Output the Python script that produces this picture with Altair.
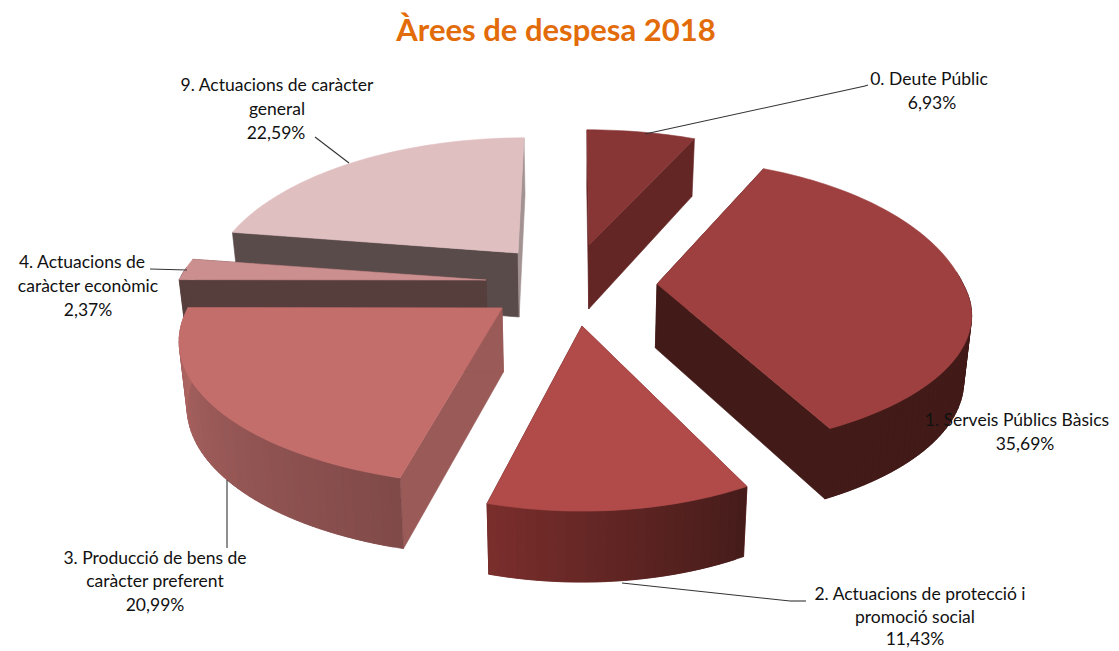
import math
import altair as alt

# Chart values
names = ["0. Deute Públic", "1. Serveis Públics Bàsics", "2. Actuacions de protecció i promoció social",
         "3. Producció de bens de caràcter preferent", "4. Actuacions de caràcter econòmic",
         "9. Actuacions de caràcter general"]
shares = [6.93, 35.69, 11.43, 20.99, 2.37, 22.59]

# Appearance of each slice
apex_x = [589, 657, 582, 502, 486, 518]
apex_y = [245, 284, 326, 308, 280, 253]
radius_x = [308, 306, 292, 314, 307, 300]
radius_y_front = [142, 128, 142, 136, 142, 142]
radius_y_back = [142, 154, 142, 142, 142, 142]
shear_back = [-2, 0, 0, 0, 0, 6]
top_color = ["#883535", "#9E4040", "#B04B4A", "#C46E6C", "#CC8F8F", "#E0BFC1"]
side_a = ["#642525", "#421A18", "#7A2E2C", "#995A58", "#563E3D", "#5A4B4B"]
side_b = ["#642525", "#421A18", "#451C1A", "#995A58", "#563E3D", "#A39292"]
wall_a = ["#642525", "#421A18", "#451C1A", "#804A49", "#563E3D", "#5A4B4B"]
wall_b = ["#642525", "#421A18", "#7A2E2C", "#B26865", "#563E3D", "#5A4B4B"]
paint_order = [5, 0, 4, 3, 1, 2]
PERSPECTIVE = 0.233

# Text
title_text = "Àrees de despesa 2018"
label_lines = ["0. Deute Públic", "6,93%",
               "1. Serveis Públics Bàsics", "35,69%",
               "2. Actuacions de protecció i", "promoció social", "11,43%",
               "3. Producció de bens de", "caràcter preferent", "20,99%",
               "4. Actuacions de", "caràcter econòmic", "2,37%",
               "9. Actuacions de caràcter", "general", "22,59%"]
label_x = [929, 932, 1017, 1025, 920, 915, 915, 155, 155, 155, 82, 88, 88, 277, 277, 276]
label_y = [80, 104, 421, 445, 595, 618, 640, 559, 582, 606, 263, 287, 311, 86, 110, 134]

# Leader lines
lead_x1 = [645, 622, 227, 150, 349, 865, 790]
lead_y1 = [134, 583, 480, 269, 163, 86, 601]
lead_x2 = [865, 790, 227, 187, 315, 868, 806]
lead_y2 = [86, 601, 548, 270, 137, 85, 601]


def hex_rgb(c):
    return [int(c[i:i + 2], 16) for i in (1, 3, 5)]


def mix(c1, c2, t):
    a, b = hex_rgb(c1), hex_rgb(c2)
    return "#%02x%02x%02x" % tuple(round(a[i] + (b[i] - a[i]) * t) for i in range(3))


def top_point(i, deg):
    r = math.radians(deg)
    u, v = math.sin(r), -math.cos(r)
    k = 1 - PERSPECTIVE * v
    b = radius_y_front[i] if v > 0 else radius_y_back[i]
    shear = shear_back[i] * max(-v, 0)
    return [apex_x[i] + radius_x[i] * u / k + shear, apex_y[i] + b * v / k], v


def depth(v):
    return 64 + 7 * v


def bottom(p, v):
    return [575 + (p[0] - 575) * 0.98, p[1] + depth(v)]


def poly(points, color):
    return {"type": "Feature", "properties": {"color": color},
            "geometry": {"type": "Polygon", "coordinates": [points + [points[0]]]}}


features = []
total = sum(shares)
edges = [0]
for s in shares:
    edges.append(edges[-1] + s / total * 360)

for i in paint_order:
    a0, a1 = edges[i], edges[i + 1]
    apex = [apex_x[i], apex_y[i]]
    apex_b = bottom(apex, 0)
    p0, v0 = top_point(i, a0)
    p1, v1 = top_point(i, a1)
    features.append(poly([apex, p0, bottom(p0, v0), apex_b], side_a[i]))
    features.append(poly([apex, p1, bottom(p1, v1), apex_b], side_b[i]))
    n = max(2, int((a1 - a0) / 1.5))
    angles = [a0 + (a1 - a0) * j / n for j in range(n + 1)]
    for j in range(n):
        q0, w0 = top_point(i, angles[j])
        # each strip overlaps the next one, so that no seam shows
        q1, w1 = top_point(i, angles[min(j + 2, n)])
        if w0 < -0.05 and w1 < -0.05:
            continue
        features.append(poly([q0, q1, bottom(q1, w1), bottom(q0, w0)], mix(wall_a[i], wall_b[i], (j + 0.5) / n)))
    rim = [top_point(i, d)[0] for d in angles]
    features.append(poly([apex] + rim, top_color[i]))

W, H = 1103, 643
OFF = 8

pie = alt.Chart(alt.Data(values=features)).mark_geoshape(strokeWidth=0.6).encode(
    fill=alt.Fill("properties.color:N", scale=None),
    stroke=alt.Stroke("properties.color:N", scale=None),
).project(type="identity", scale=1, translate=[-OFF, -OFF])

leaders = alt.Chart(alt.Data(values=[
    {"x": a - OFF, "y": b - OFF, "x2": c - OFF, "y2": d - OFF}
    for a, b, c, d in zip(lead_x1, lead_y1, lead_x2, lead_y2)])).mark_rule(color="#333333", strokeWidth=1.1).encode(
    x=alt.X("x:Q", scale=None), y=alt.Y("y:Q", scale=None),
    x2="x2:Q", y2="y2:Q")

labels = alt.Chart(alt.Data(values=[
    {"t": t, "x": a - OFF, "y": b - OFF} for t, a, b in zip(label_lines, label_x, label_y)])).mark_text(
    font="Lato", fontSize=17.5, color="#111111", align="center", baseline="middle").encode(
    x=alt.X("x:Q", scale=None), y=alt.Y("y:Q", scale=None), text="t:N")

title = alt.Chart(alt.Data(values=[{"t": title_text, "x": 556 - OFF, "y": 32 - OFF}])).mark_text(
    font="Lato", fontSize=31, fontWeight="bold", color="#E36C0A", align="center", baseline="middle").encode(
    x=alt.X("x:Q", scale=None), y=alt.Y("y:Q", scale=None), text="t:N")

chart = alt.layer(pie, leaders, labels, title).properties(
    width=W, height=H, padding=0, autosize=alt.AutoSizeParams(type="none"),
    background="white").configure_view(stroke=None)

chart.save("out.html", embed_options={"renderer": "svg", "actions": False})
